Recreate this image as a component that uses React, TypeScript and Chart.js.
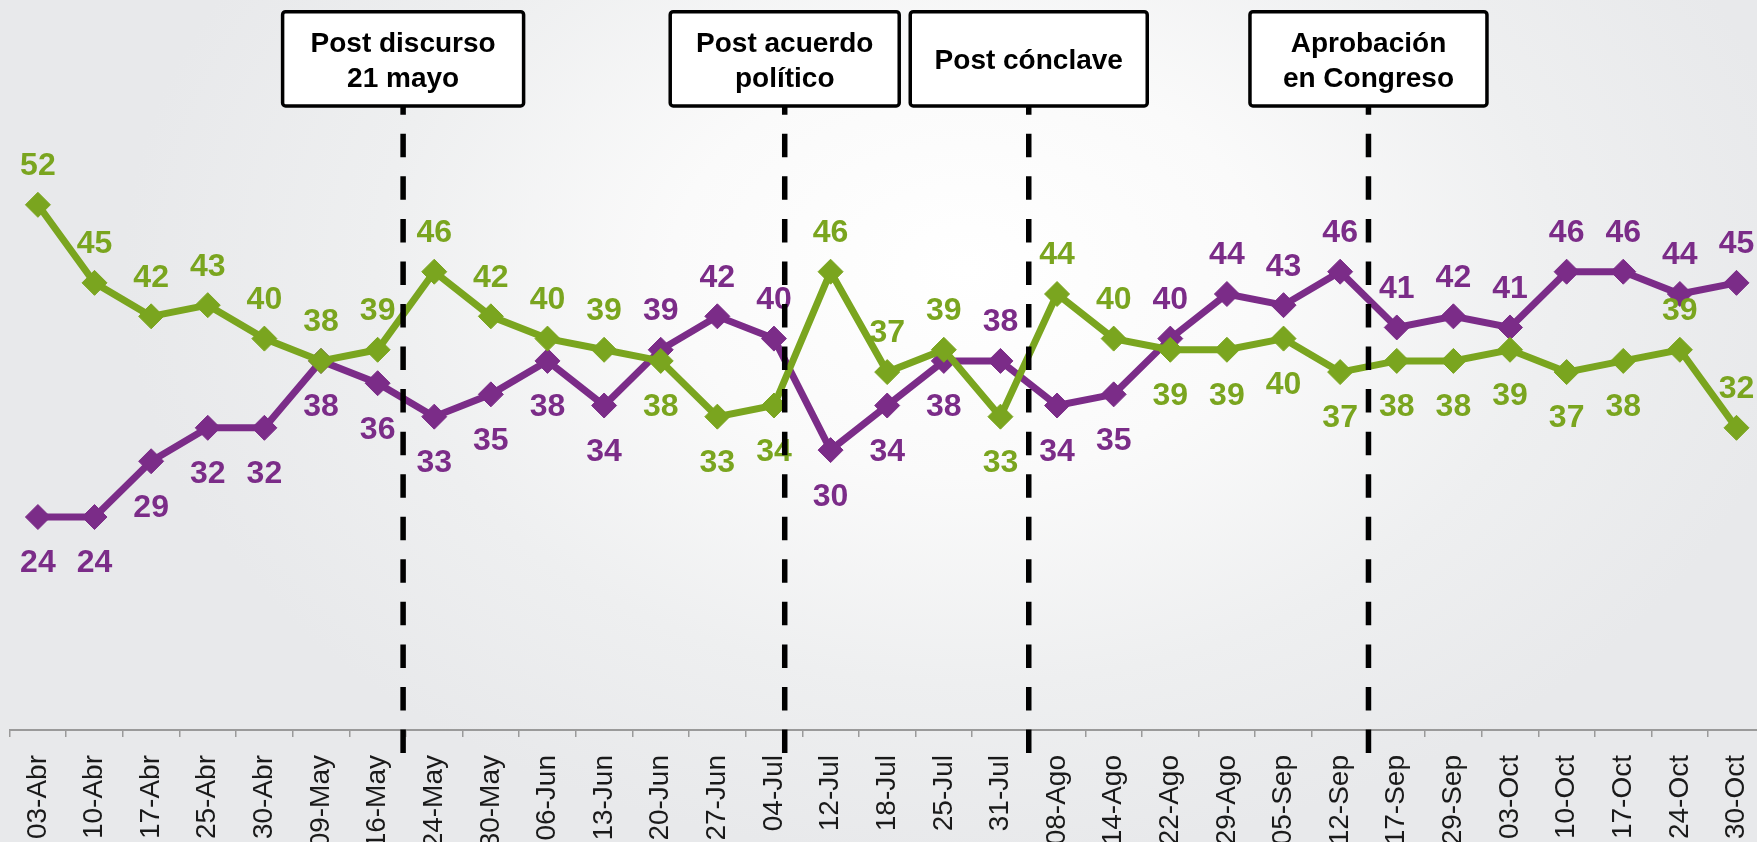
import React, { useEffect, useRef } from "react";
import { Chart, registerables } from "chart.js";

Chart.register(...registerables);

const categories = [
  "03-Abr", "10-Abr", "17-Abr", "25-Abr", "30-Abr", "09-May", "16-May", "24-May",
  "30-May", "06-Jun", "13-Jun", "20-Jun", "27-Jun", "04-Jul", "12-Jul", "18-Jul",
  "25-Jul", "31-Jul", "08-Ago", "14-Ago", "22-Ago", "29-Ago", "05-Sep", "12-Sep",
  "17-Sep", "29-Sep", "03-Oct", "10-Oct", "17-Oct", "24-Oct", "30-Oct",
];

const greenValues = [
  52, 45, 42, 43, 40, 38, 39, 46, 42, 40, 39, 38, 33, 34, 46, 37,
  39, 33, 44, 40, 39, 39, 40, 37, 38, 38, 39, 37, 38, 39, 32,
];

const purpleValues = [
  24, 24, 29, 32, 32, 38, 36, 33, 35, 38, 34, 39, 42, 40, 30, 34,
  38, 38, 34, 35, 40, 44, 43, 46, 41, 42, 41, 46, 46, 44, 45,
];

// label placement: "a" = above the point, "b" = below
const greenLabelPlace = [
  "a", "a", "a", "a", "a", "a", "a", "a", "a", "a", "a", "b", "b", "b", "a", "a",
  "a", "b", "a", "a", "b", "b", "b", "b", "b", "b", "b", "b", "b", "a", "a",
];
const purpleLabelPlace = [
  "b", "b", "b", "b", "b", "b", "b", "b", "b", "b", "b", "a", "a", "a", "b", "b",
  "b", "a", "b", "b", "a", "a", "a", "a", "a", "a", "a", "a", "a", "a", "a",
];

// events: category index where the dashed marker sits, and the box caption
const eventPositions = [6.45, 13.19, 17.5, 23.5];
const eventCaptions = [
  ["Post discurso", "21 mayo"],
  ["Post acuerdo", "político"],
  ["Post cónclave"],
  ["Aprobación", "en Congreso"],
];
const eventBoxWidths = [241, 229, 237, 237];

const GREEN = "#7aa51f";
const PURPLE = "#7b2c88";
const FONT = "'Liberation Sans', Arial, sans-serif";

const overlayPlugin = {
  id: "overlay",
  afterDatasetsDraw(chart: any) {
    const ctx = chart.ctx;
    ctx.save();
    ctx.font = `bold 32px ${FONT}`;
    ctx.textAlign = "center";
    ctx.textBaseline = "alphabetic";
    const places = [greenLabelPlace, purpleLabelPlace];
    const colors = [GREEN, PURPLE];
    chart.data.datasets.forEach((ds: any, di: number) => {
      const meta = chart.getDatasetMeta(di);
      meta.data.forEach((pt: any, i: number) => {
        const above = places[di][i] === "a";
        const cy = above ? pt.y - 41 : pt.y + 44;
        ctx.fillStyle = colors[di];
        ctx.fillText(String(ds.data[i]), pt.x, cy + 11.4);
      });
    });
    ctx.restore();
  },
  afterDraw(chart: any) {
    const ctx = chart.ctx;
    const xs = chart.scales.x;
    const boxTop = 11.7;
    const boxBottom = 106;
    ctx.save();
    eventPositions.forEach((at, k) => {
      const x = xs.getPixelForValue(at);
      ctx.beginPath();
      ctx.setLineDash([23.5, 19.05]);
      ctx.lineWidth = 5.5;
      ctx.strokeStyle = "#000";
      ctx.moveTo(x, 753);
      ctx.lineTo(x, boxBottom);
      ctx.stroke();
      ctx.setLineDash([]);
      const w = eventBoxWidths[k];
      const left = x - w / 2;
      ctx.beginPath();
      ctx.roundRect(left, boxTop, w, boxBottom - boxTop, 3);
      ctx.fillStyle = "#ffffff";
      ctx.fill();
      ctx.lineWidth = 3.5;
      ctx.strokeStyle = "#000";
      ctx.stroke();
      ctx.fillStyle = "#000";
      ctx.font = `bold 28px ${FONT}`;
      ctx.textAlign = "center";
      ctx.textBaseline = "alphabetic";
      const lines = eventCaptions[k];
      const mid = (boxTop + boxBottom) / 2 + 0.5;
      const gap = 35;
      lines.forEach((ln, li) => {
        const cy = mid + (li - (lines.length - 1) / 2) * gap;
        ctx.fillText(ln, x, cy + 10);
      });
    });
    ctx.restore();
  },
};

export default function App() {
  const ref = useRef<HTMLCanvasElement | null>(null);
  useEffect(() => {
    if (!ref.current) return;
    const chart = new Chart(ref.current, {
      type: "line",
      data: {
        labels: categories,
        datasets: [
          {
            label: "Verde",
            data: greenValues,
            borderColor: GREEN,
            backgroundColor: GREEN,
            borderWidth: 7,
            pointStyle: "rectRot",
            pointRadius: 12.5,
            pointBorderWidth: 1,
            pointBackgroundColor: GREEN,
            pointBorderColor: GREEN,
            tension: 0,
            clip: false,
          },
          {
            label: "Morado",
            data: purpleValues,
            borderColor: PURPLE,
            backgroundColor: PURPLE,
            borderWidth: 7,
            pointStyle: "rectRot",
            pointRadius: 12.5,
            pointBorderWidth: 1,
            pointBackgroundColor: PURPLE,
            pointBorderColor: PURPLE,
            tension: 0,
            clip: false,
          },
        ],
      },
      options: {
        animation: false,
        responsive: false,
        maintainAspectRatio: false,
        devicePixelRatio: 1,
        layout: {
          autoPadding: false,
          padding: { left: 9.6, right: 10.2, top: 4.1, bottom: 0 },
        },
        plugins: {
          legend: { display: false },
          tooltip: { enabled: false },
        },
        scales: {
          x: {
            offset: true,
            grid: {
              offset: true,
              drawOnChartArea: false,
              drawTicks: true,
              tickLength: 7,
              color: "#9a9a9a",
              lineWidth: 1.5,
            },
            border: { display: true, color: "#9a9a9a", width: 2 },
            ticks: {
              autoSkip: false,
              minRotation: 90,
              maxRotation: 90,
              padding: 18,
              color: "#1a1a1a",
              font: { family: FONT, size: 28 },
            },
            afterFit: (scale: any) => {
              scale.height = 112;
              scale.paddingLeft = 0;
              scale.paddingRight = 0;
            },
          },
          y: {
            display: false,
            min: 4.9,
            max: 70,
          },
        },
      },
      plugins: [overlayPlugin],
    } as any);
    return () => chart.destroy();
  }, []);

  return (
    <div
      style={{
        position: "absolute",
        left: 0,
        top: 0,
        width: 1757,
        height: 842,
        overflow: "hidden",
        background:
          "radial-gradient(ellipse 48% 70% at 55% 32%, #ffffff 0%, #fafafa 35%, #eeeff0 70%, #e8e9eb 100%)",
      }}
    >
      <canvas ref={ref} width={1775} height={842} style={{ display: "block" }} />
    </div>
  );
}
